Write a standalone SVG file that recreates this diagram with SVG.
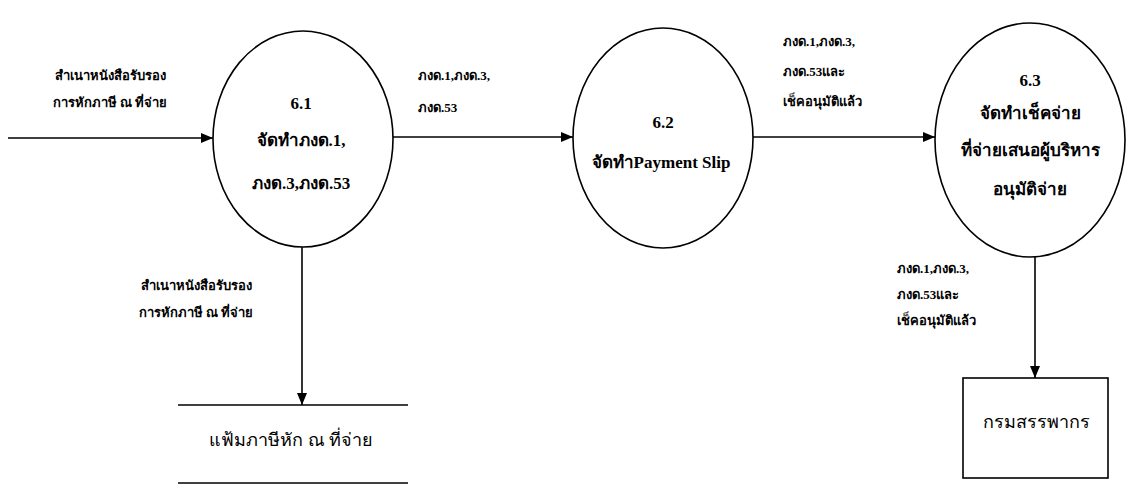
<svg xmlns="http://www.w3.org/2000/svg" width="1145" height="485" viewBox="0 0 1145 485">
  <style>
    .bg { fill: #ffffff; }
    .proc { fill: #ffffff; stroke: #000000; stroke-width: 1.6; }
    .line { stroke: #000000; stroke-width: 1.6; fill: none; }
    .flow { stroke: #000000; stroke-width: 1.6; fill: none; marker-end: url(#arrow); }
    .box { fill: #ffffff; stroke: #000000; stroke-width: 1.6; }
    text { font-family: "Liberation Serif", "Noto Sans", "DejaVu Sans", serif; fill: #000000; }
    .lbl { font-size: 13px; font-weight: bold; }
    .node { font-size: 17px; font-weight: bold; text-anchor: middle; }
    .store { font-size: 18px; text-anchor: middle; }
    .mid { text-anchor: middle; }
  </style>
  <defs>
    <marker id="arrow" viewBox="0 0 12 10" refX="12" refY="5" markerWidth="12" markerHeight="10" markerUnits="userSpaceOnUse" orient="auto">
      <path d="M0,0 L12,5 L0,10 Z" fill="#000000"/>
    </marker>
  </defs>

  <rect class="bg" x="0" y="0" width="1145" height="485"/>

  <!-- data flows -->
  <g id="connectors">
    <line class="flow" x1="8" y1="138" x2="213" y2="138"/>
    <line class="flow" x1="393" y1="137" x2="573" y2="137"/>
    <line class="flow" x1="753" y1="137" x2="935" y2="137"/>
    <line class="flow" x1="302" y1="247" x2="302" y2="405"/>
    <line class="flow" x1="1035" y1="257" x2="1035" y2="378"/>

    <text class="lbl mid" x="110" y="80">สำเนาหนังสือรับรอง</text>
    <text class="lbl mid" x="110" y="107">การหักภาษี ณ ที่จ่าย</text>

    <text class="lbl" x="418" y="80">ภงด.1,ภงด.3,</text>
    <text class="lbl" x="418" y="112">ภงด.53</text>

    <text class="lbl" x="783" y="46">ภงด.1,ภงด.3,</text>
    <text class="lbl" x="783" y="76">ภงด.53และ</text>
    <text class="lbl" x="783" y="106">เช็คอนุมัติแล้ว</text>

    <text class="lbl mid" x="196" y="290">สำเนาหนังสือรับรอง</text>
    <text class="lbl mid" x="196" y="317">การหักภาษี ณ ที่จ่าย</text>

    <text class="lbl" x="897" y="273">ภงด.1,ภงด.3,</text>
    <text class="lbl" x="897" y="299">ภงด.53และ</text>
    <text class="lbl" x="897" y="325">เช็คอนุมัติแล้ว</text>
  </g>

  <!-- process 6.1 -->
  <g id="p6_1">
    <ellipse class="proc" cx="303" cy="139" rx="90" ry="108"/>
    <text class="node" x="301" y="109">6.1</text>
    <text class="node" x="301" y="146">จัดทำภงด.1,</text>
    <text class="node" x="301" y="189">ภงด.3,ภงด.53</text>
  </g>

  <!-- process 6.2 -->
  <g id="p6_2">
    <ellipse class="proc" cx="663" cy="138" rx="90" ry="110"/>
    <text class="node" x="663" y="128">6.2</text>
    <text class="node" x="661" y="168">จัดทำPayment Slip</text>
  </g>

  <!-- process 6.3 -->
  <g id="p6_3">
    <ellipse class="proc" cx="1030" cy="140" rx="95" ry="117"/>
    <text class="node" x="1030" y="86">6.3</text>
    <text class="node" x="1030" y="119">จัดทำเช็คจ่าย</text>
    <text class="node" x="1030" y="156">ที่จ่ายเสนอผู้บริหาร</text>
    <text class="node" x="1030" y="195">อนุมัติจ่าย</text>
  </g>

  <!-- data store -->
  <g id="store_wht">
    <line class="line" x1="178" y1="405" x2="408" y2="405"/>
    <line class="line" x1="178" y1="483" x2="408" y2="483"/>
    <text class="store" x="291" y="446">แฟ้มภาษีหัก ณ ที่จ่าย</text>
  </g>

  <!-- external entity -->
  <g id="ext_rd">
    <rect class="box" x="963" y="378" width="145" height="100"/>
    <text class="store" x="1036" y="428">กรมสรรพากร</text>
  </g>
</svg>
